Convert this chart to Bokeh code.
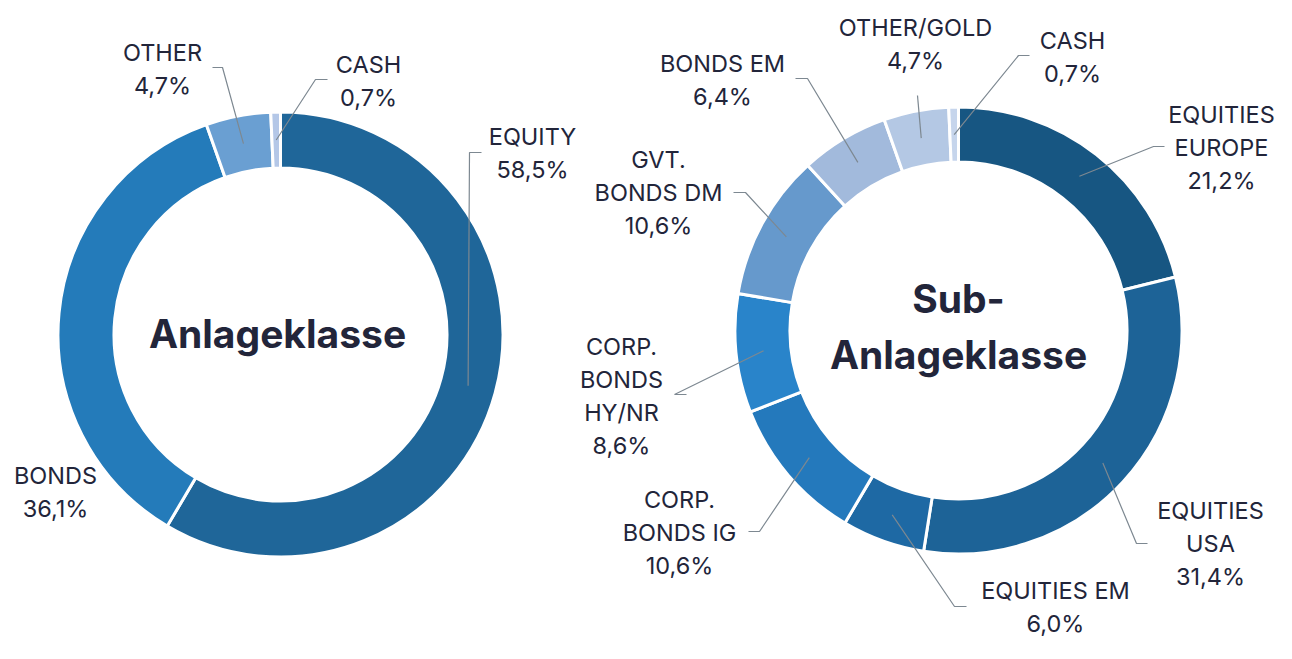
import numpy as np
from bokeh.plotting import figure
from bokeh.models import Range1d
from bokeh.core.properties import value
from bokeh.embed import file_html
from bokeh.resources import INLINE

# ---------------- data ----------------
asset_classes = ["EQUITY", "BONDS", "OTHER", "CASH"]
asset_shares = [58.5, 36.1, 4.7, 0.7]

sub_classes = ["EQUITIES\nEUROPE", "EQUITIES\nUSA", "EQUITIES EM", "CORP.\nBONDS IG",
               "CORP.\nBONDS\nHY/NR", "GVT.\nBONDS DM", "BONDS EM", "OTHER/GOLD", "CASH"]
sub_shares = [21.2, 31.4, 6.0, 10.6, 8.6, 10.6, 6.4, 4.7, 0.7]

left_title = ["Anlageklasse"]
right_title = ["Sub-", "Anlageklasse"]

# ---------------- style / layout ----------------
asset_colors = ["#1F6699", "#247BBA", "#6A9FD2", "#B4C7E7"]
sub_colors = ["#175682", "#1D6397", "#1E69A4", "#2479BC", "#2984CA",
              "#6699CC", "#A2BADC", "#B4C8E4", "#C6D5EC"]

TEXT = "#22253A"
LEAD = "#7D8891"
FONT = "Inter"
FS = "23.5px"
LINE_H = 33

W, H = 1276, 643
PAGE_H = 659


def Y(py):
    return PAGE_H - py


p = figure(width=W, height=H, x_range=Range1d(0, W), y_range=Range1d(PAGE_H - H, PAGE_H),
           output_backend="svg", toolbar_location=None,
           x_axis_location=None, y_axis_location=None, min_border=0)
p.grid.visible = False
p.outline_line_color = None
p.background_fill_color = "white"
p.border_fill_color = "white"


def fmt(v):
    return ("%.1f" % v).replace(".", ",") + "%"


def donut(cx, cy, r_in, r_out, names, values, colors, label_pos, leaders):
    vals = np.array(values, dtype=float)
    cum = np.concatenate([[0.0], np.cumsum(vals)]) / vals.sum()
    start = np.pi / 2 - 2 * np.pi * cum[:-1]
    end = np.pi / 2 - 2 * np.pi * cum[1:]
    p.annular_wedge(x=cx, y=Y(cy), inner_radius=r_in - 1.5, outer_radius=r_out + 1.5,
                    start_angle=list(start), end_angle=list(end), direction="clock",
                    fill_color=colors, line_color="white", line_width=3)
    mid = (cum[:-1] + cum[1:]) / 2 * 2 * np.pi
    rm = (r_in + r_out) / 2
    ax = cx + rm * np.sin(mid)
    ay = cy - rm * np.cos(mid)

    xs, ys = [], []
    for i, ld in enumerate(leaders):
        if ld is None:
            continue
        sx, sy, ex = ld
        xs.append([sx, ex, ax[i]])
        ys.append([Y(sy), Y(sy), Y(ay[i])])
    p.multi_line(xs=xs, ys=ys, line_color=LEAD, line_width=1.2)

    tx, ty, tt = [], [], []
    for name, v, (lx, ly) in zip(names, values, label_pos):
        lines = name.split("\n") + [fmt(v)]
        n = len(lines)
        for k, s in enumerate(lines):
            tx.append(lx)
            ty.append(Y(ly + (k - (n - 1) / 2) * LINE_H))
            tt.append(s)
    p.text(x=tx, y=ty, text=tt, text_align="center", text_baseline="middle",
           text_font=value(FONT), text_font_size=FS, text_color=TEXT)


# left donut
donut(280, 334, 168, 221, asset_classes, asset_shares, asset_colors,
      label_pos=[(532, 152), (55, 491), (162, 68), (368, 80)],
      leaders=[(481, 152, 469), None, (212, 67, 222), (327, 79, 315)])

# right donut
donut(958, 330, 170, 222, sub_classes, sub_shares, sub_colors,
      label_pos=[(1221, 147), (1210, 543), (1055, 606), (679, 532), (621, 395),
                 (658, 192), (722, 79), (915, 43), (1072, 56)],
      leaders=[(1164, 146, 1153), (1147, 543, 1136), (966, 606, 954), (748, 531, 759),
               (686, 394, 674), (733, 192, 745), (795, 78, 807), (917, 95, 917),
               (1029, 55, 1018)])

# center titles
p.text(x=[277], y=[Y(333)], text=left_title, text_align="center", text_baseline="middle",
       text_font=value(FONT), text_font_style="bold", text_font_size="39px", text_color=TEXT)
p.text(x=[958, 958], y=[Y(298), Y(354)], text=right_title, text_align="center",
       text_baseline="middle", text_font=value(FONT), text_font_style="bold",
       text_font_size="39px", text_color=TEXT)

open("out.html", "w").write(file_html(p, INLINE))
